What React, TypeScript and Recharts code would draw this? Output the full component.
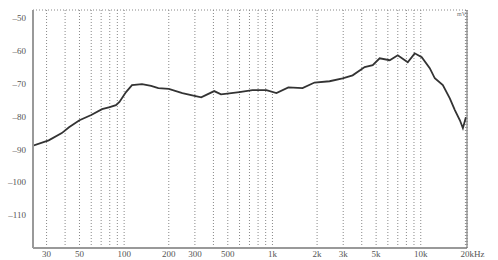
import React from 'react';
import { LineChart, Line, XAxis, YAxis, CartesianGrid } from 'recharts';

const FREQS = [24.3, 31, 38, 42.5, 50, 60, 71, 80, 88, 93, 103, 113, 132, 152, 170, 200, 247, 288, 331, 364, 405, 450, 512, 598, 733, 910, 1064, 1280, 1595, 1922, 2427, 2972, 3473, 4187, 4742, 5285, 6178, 6997, 8171, 9106, 10155, 11500, 12437, 14085, 15700, 16980, 18360, 19235, 20150];
const LEVELS = [-88.8, -87.2, -85.0, -83.2, -81.1, -79.5, -77.7, -77.1, -76.5, -75.5, -72.5, -70.4, -70.1, -70.6, -71.3, -71.5, -72.8, -73.5, -74.1, -73.2, -72.2, -73.2, -72.9, -72.5, -71.9, -71.9, -72.8, -71.1, -71.3, -69.6, -69.2, -68.3, -67.4, -64.9, -64.3, -62.2, -62.8, -61.3, -63.4, -60.7, -61.9, -65.2, -68.3, -70.4, -74.4, -78.0, -81.1, -83.5, -80.2];

const GRID_FREQS = [30, 40, 50, 60, 70, 80, 90, 100, 200, 300, 400, 500, 600, 700, 800, 900, 1000, 2000, 3000, 4000, 5000, 6000, 7000, 8000, 9000, 10000, 20000];
const FREQ_LABELS: Record<number, string> = { 30: '30', 50: '50', 100: '100', 200: '200', 300: '300', 500: '500', 1000: '1k', 2000: '2k', 3000: '3k', 5000: '5k', 10000: '10k', 20000: '20kHz' };

const DB_TICKS = [-50, -60, -70, -80, -90, -100, -110];
const RIGHT_LABELS: Record<string, string> = { '-50': '3.16', '-60': '1.000', '-70': '0.316', '-80': '0.1000', '-90': '0.0316', '-100': '0.0100', '-110': '0.0032' };

const data = FREQS.map((f, i) => ({ f, v: LEVELS[i] }));

const FONT = '"Liberation Serif", "DejaVu Serif", serif';

const XTick = (props: any) => {
  const { x, y, payload } = props;
  const label = FREQ_LABELS[payload.value];
  if (!label) return <g />;
  const isLast = payload.value === 20000;
  return (
    <text x={isLast ? x - 5 : x} y={y} dy="0.71em" textAnchor={isLast ? 'start' : 'middle'} fontSize={9} fontFamily={FONT} fill="#555">
      {label}
    </text>
  );
};

const LTick = (props: any) => {
  const { x, y, payload } = props;
  return (
    <text x={x} y={y} dy="0.35em" textAnchor="end" fontSize={9} fontFamily={FONT} fill="#555">
      {String(payload.value).replace('-', '\u2013')}
    </text>
  );
};

export default function App() {
  return (
    <div style={{ position: 'absolute', left: 0, top: 0, width: 498, height: 260, background: '#fff' }}>
      <LineChart width={498} height={260} data={data} margin={{ top: 10, right: 0, bottom: 0, left: 0 }}>
        <CartesianGrid stroke="#888" strokeDasharray="1 2" horizontal vertical />
        <XAxis
          dataKey="f"
          type="number"
          scale="log"
          domain={[24.3, 20500]}
          allowDataOverflow
          ticks={GRID_FREQS}
          interval={0}
          height={12}
          tickSize={0}
          tickMargin={3}
          tick={<XTick />}
          axisLine={{ stroke: '#999', strokeWidth: 2 }}
        />
        <YAxis
          yAxisId="l"
          orientation="left"
          type="number"
          domain={[-120, -47.5]}
          ticks={DB_TICKS}
          interval={0}
          width={33}
          tickSize={0}
          tickMargin={7}
          tick={<LTick />}
          axisLine={{ stroke: '#999', strokeWidth: 2 }}
        />
        <YAxis
          yAxisId="r"
          orientation="right"
          type="number"
          domain={[-120, -47.5]}
          ticks={DB_TICKS}
          interval={0}
          width={31}
          tickSize={0}
          tickMargin={5}
          tickFormatter={(v: number) => RIGHT_LABELS[String(v)] ?? ''}
          tick={{ fontSize: 9, fontFamily: FONT, fill: '#555', textAnchor: 'start' }}
          axisLine={{ stroke: '#666', strokeWidth: 1 }}
        />
        <Line
          yAxisId="l"
          dataKey="v"
          type="linear"
          stroke="#333"
          strokeWidth={1.8}
          dot={false}
          isAnimationActive={false}
        />
        <text x={457} y={16} fontSize={6} fontFamily={FONT} fill="#777">mV</text>
      </LineChart>
    </div>
  );
}
